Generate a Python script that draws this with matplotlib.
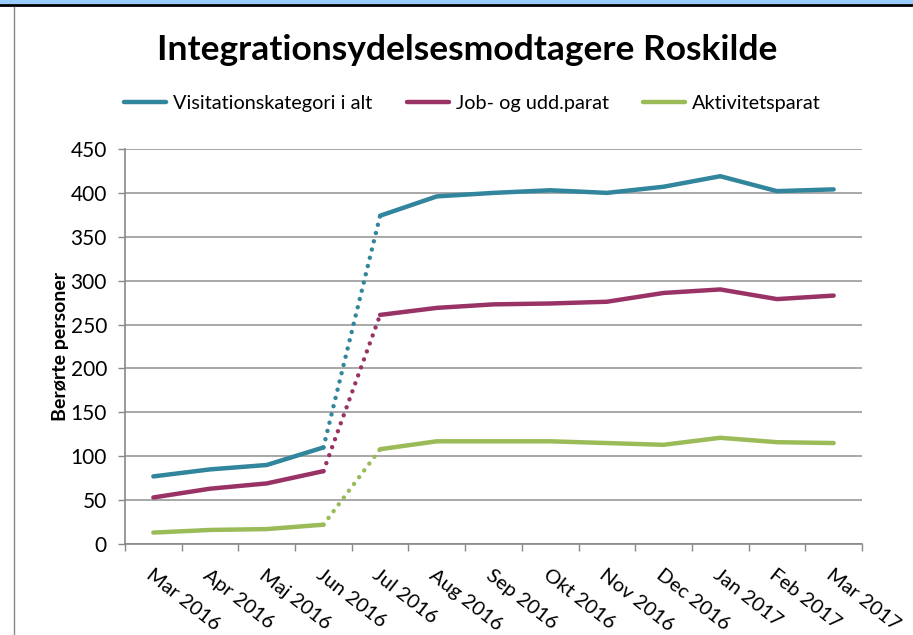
import numpy as np
import matplotlib
matplotlib.use("Agg")
from matplotlib import pyplot as plt

plt.rcParams['font.family'] = ['Lato', 'DejaVu Sans']

months = ["Mar 2016", "Apr 2016", "Maj 2016", "Jun 2016", "Jul 2016", "Aug 2016",
          "Sep 2016", "Okt 2016", "Nov 2016", "Dec 2016", "Jan 2017", "Feb 2017", "Mar 2017"]
visitation = [77, 85, 90, 110, 374, 396, 400, 403, 400, 407, 419, 402, 404]
job_udd = [53, 63, 69, 83, 261, 269, 273, 274, 276, 286, 290, 279, 283]
aktivitet = [13, 16, 17, 22, 108, 117, 117, 117, 115, 113, 121, 116, 115]

names = ["Visitationskategori i alt", "Job- og udd.parat", "Aktivitetsparat"]
colors = ["#31859c", "#993366", "#9bbb59"]
break_after = 3  # dotted jump between Jun and Jul 2016

fig = plt.figure(figsize=(9.13, 6.35), dpi=100)
ax = fig.add_axes([125 / 913, 91 / 635, 737 / 913, 395 / 635])

x = np.arange(len(months))
for vals, name, c in zip([visitation, job_udd, aktivitet], names, colors):
    v = np.array(vals, dtype=float)
    ax.plot(x[:break_after + 1], v[:break_after + 1], color=c, lw=3.2,
            solid_capstyle="round", label=name)
    ax.plot(x[break_after + 1:], v[break_after + 1:], color=c, lw=3.2,
            solid_capstyle="round")
    ax.plot(x[break_after:break_after + 2], v[break_after:break_after + 2], color=c,
            lw=3.2, linestyle=(0, (0.01, 1.9)), dash_capstyle="round")

ax.set_xlim(-0.5, len(months) - 0.5)
ax.set_ylim(0, 450)
ax.set_yticks(range(0, 451, 50))
ax.set_xticks(x)
ax.set_xticklabels(months, rotation=-38, ha="left", rotation_mode="anchor", fontsize=14.5)
ax.set_xticks(np.arange(-0.5, len(months), 1), minor=True)
ax.tick_params(axis="x", which="major", length=0, pad=16)
ax.tick_params(axis="x", which="minor", length=5, color="#888888", width=1)
ax.tick_params(axis="y", length=5, color="#888888", width=1, labelsize=15, pad=8)
ax.grid(axis="y", color="#999999", lw=1.2)
ax.set_axisbelow(True)
for s in ["top", "right"]:
    ax.spines[s].set_visible(False)
for s in ["left", "bottom"]:
    ax.spines[s].set_color("#888888")
    ax.spines[s].set_linewidth(1.2)

ax.set_ylabel("Berørte personer", fontsize=14, fontweight="bold", labelpad=1)

fig.suptitle("Integrationsydelsesmodtagere Roskilde", fontsize=25.5, fontweight="bold",
             y=1 - 50 / 635, va="center", x=467 / 913)

ax.legend(loc="center", bbox_to_anchor=(0.4715, 1 + (149 - 103) / 395), ncol=3,
          frameon=False, fontsize=14.3, handlelength=2.1, columnspacing=1.75,
          handletextpad=0.35)

# frame of the surrounding page
fig.patches.append(plt.Rectangle((0, 1 - 4 / 635), 1, 4 / 635, transform=fig.transFigure,
                                 facecolor="#99ccff", edgecolor="none"))
fig.lines.append(plt.Line2D([0, 1], [1 - 5 / 635, 1 - 5 / 635], transform=fig.transFigure,
                            color="black", lw=2))
fig.lines.append(plt.Line2D([14 / 913, 14 / 913], [0, 1 - 7 / 635], transform=fig.transFigure,
                            color="#888888", lw=1))

fig.savefig("out.png", dpi=100)
